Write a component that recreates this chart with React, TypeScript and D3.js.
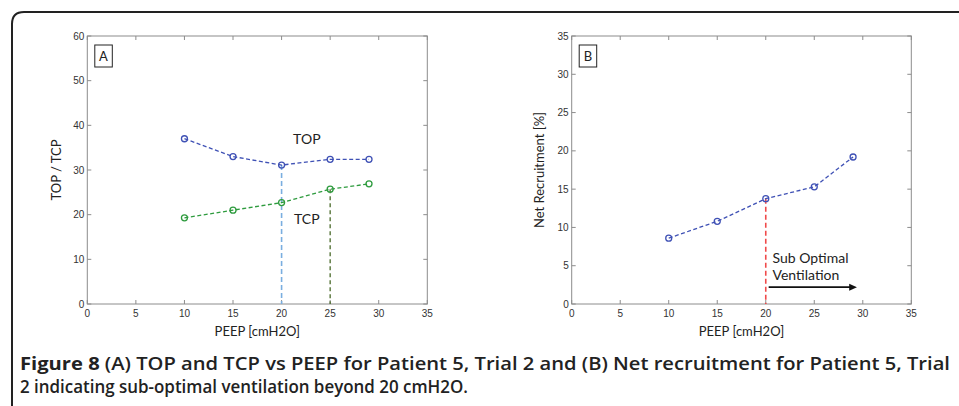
import React from 'react';
import * as d3 from 'd3';

// PEEP settings shared by both panels
const peep = [10, 15, 20, 25, 29];

// panel A
const topValues = [37.0, 33.0, 31.1, 32.4, 32.4];
const tcpValues = [19.3, 21.0, 22.7, 25.7, 26.9];
const aYTicks = [0, 10, 20, 30, 40, 50, 60];

// panel B
const netRecruitment = [8.6, 10.8, 13.75, 15.3, 19.2];
const bYTicks = [0, 5, 10, 15, 20, 25, 30, 35];

const xTicks = [0, 5, 10, 15, 20, 25, 30, 35];

const tickFont = '"Liberation Sans", Arial, sans-serif';
const labelFont = 'Lato, "Open Sans", sans-serif';

type PanelProps = {
    left: number;
    right: number;
    top: number;
    bottom: number;
    yMax: number;
    yTicks: number[];
    yLabel: string;
    yLabelX: number;
    letter: string;
    children: (x: d3.ScaleLinear<number, number>, y: d3.ScaleLinear<number, number>) => React.ReactNode;
};

function Panel({ left, right, top, bottom, yMax, yTicks, yLabel, yLabelX, letter, children }: PanelProps) {
    const x = d3.scaleLinear().domain([0, 35]).range([left, right]);
    const y = d3.scaleLinear().domain([0, yMax]).range([bottom, top]);
    const axisColor = '#8c8c8c';
    const tl = 4;
    return (
        <g>
            <rect x={left} y={top} width={right - left} height={bottom - top} fill="none" stroke={axisColor} strokeWidth={1} />
            {xTicks.map((t) => (
                <g key={'x' + t}>
                    <line x1={x(t)} x2={x(t)} y1={bottom} y2={bottom - tl} stroke={axisColor} />
                    <line x1={x(t)} x2={x(t)} y1={top} y2={top + tl} stroke={axisColor} />
                    <text x={x(t)} y={bottom + 13} textAnchor="middle" fontFamily={tickFont} fontSize={10} fill="#333">
                        {t}
                    </text>
                </g>
            ))}
            {yTicks.map((t) => (
                <g key={'y' + t}>
                    <line x1={left} x2={left + tl} y1={y(t)} y2={y(t)} stroke={axisColor} />
                    <line x1={right} x2={right - tl} y1={y(t)} y2={y(t)} stroke={axisColor} />
                    <text x={left - 3} y={y(t) + 3.5} textAnchor="end" fontFamily={tickFont} fontSize={10} fill="#333">
                        {t}
                    </text>
                </g>
            ))}
            <text
                x={(left + right) / 2}
                y={bottom + 32}
                textAnchor="middle"
                fontFamily={labelFont}
                fontSize={13}
                fill="#222"
            >
                PEEP [cmH2O]
            </text>
            <text
                transform={`translate(${yLabelX},${(top + bottom) / 2}) rotate(-90)`}
                textAnchor="middle"
                fontFamily={labelFont}
                fontSize={13}
                fill="#222"
            >
                {yLabel}
            </text>
            <rect x={left + 7.5} y={45} width={17.5} height={22} fill="#fff" stroke="#222" strokeWidth={1} />
            <text x={left + 16.2} y={61} textAnchor="middle" fontFamily={labelFont} fontSize={13} fill="#222">
                {letter}
            </text>
            {children(x, y)}
        </g>
    );
}

function Series({ xs, ys, color, x, y }: { xs: number[]; ys: number[]; color: string; x: any; y: any }) {
    const line = d3
        .line<number>()
        .x((d, i) => x(xs[i]))
        .y((d) => y(d));
    return (
        <g>
            <path d={line(ys) || ''} fill="none" stroke={color} strokeWidth={1.3} strokeDasharray="4,2.5" />
            {ys.map((v, i) => (
                <circle key={i} cx={x(xs[i])} cy={y(v)} r={3} fill="none" stroke={color} strokeWidth={1.3} />
            ))}
        </g>
    );
}

export default function App() {
    const blue = '#3f51b5';
    const green = '#2e9b3e';
    return (
        <svg width={959} height={406} style={{ position: 'absolute', left: 0, top: 0 }}>
            <rect width={959} height={406} fill="#fff" />
            <path d="M12,420 L12,24 Q12,12 24,12 L970,12" fill="none" stroke="#222" strokeWidth={2} />

            <Panel
                left={87.3}
                right={427.3}
                top={36}
                bottom={304}
                yMax={60}
                yTicks={aYTicks}
                yLabel="TOP / TCP"
                yLabelX={61}
                letter="A"
            >
                {(x, y) => (
                    <g>
                        <line
                            x1={x(peep[2])}
                            x2={x(peep[2])}
                            y1={y(topValues[2])}
                            y2={y(0)}
                            stroke="#7aaee0"
                            strokeWidth={1.6}
                            strokeDasharray="5,3"
                        />
                        <line
                            x1={x(peep[3])}
                            x2={x(peep[3])}
                            y1={y(tcpValues[3])}
                            y2={y(0)}
                            stroke="#4a6a2a"
                            strokeWidth={1.3}
                            strokeDasharray="4,3"
                        />
                        <Series xs={peep} ys={topValues} color={blue} x={x} y={y} />
                        <Series xs={peep} ys={tcpValues} color={green} x={x} y={y} />
                        <text x={x(22.6)} y={y(37) + 5} textAnchor="middle" fontFamily={labelFont} fontSize={14} fill="#222">
                            TOP
                        </text>
                        <text x={x(22.6)} y={y(19.1) + 5} textAnchor="middle" fontFamily={labelFont} fontSize={14} fill="#222">
                            TCP
                        </text>
                    </g>
                )}
            </Panel>

            <Panel
                left={571.7}
                right={911.3}
                top={36}
                bottom={304}
                yMax={35}
                yTicks={bYTicks}
                yLabel="Net Recruitment [%]"
                yLabelX={544}
                letter="B"
            >
                {(x, y) => (
                    <g>
                        <line
                            x1={x(peep[2])}
                            x2={x(peep[2])}
                            y1={y(netRecruitment[2])}
                            y2={y(0)}
                            stroke="#f04a4a"
                            strokeWidth={1.6}
                            strokeDasharray="5,3"
                        />
                        <Series xs={peep} ys={netRecruitment} color={blue} x={x} y={y} />
                        <text x={x(20.7)} y={y(5.4)} fontFamily={labelFont} fontSize={14} fill="#222">
                            Sub Optimal
                        </text>
                        <text x={x(20.7)} y={y(3.1)} fontFamily={labelFont} fontSize={14} fill="#222">
                            Ventilation
                        </text>
                        <line x1={x(20.3)} x2={x(28.9)} y1={y(2.2)} y2={y(2.2)} stroke="#111" strokeWidth={1.8} />
                        <path
                            d={`M${x(29.4)},${y(2.2)} L${x(28.6)},${y(2.2) - 3.5} L${x(28.6)},${y(2.2) + 3.5} Z`}
                            fill="#111"
                        />
                    </g>
                )}
            </Panel>

            <text x={20} y={370} fontFamily={'"Open Sans", sans-serif'} fontSize={17.5} fill="#222" textLength={930} lengthAdjust="spacingAndGlyphs">
                <tspan fontWeight={700}>Figure 8</tspan>
                <tspan fontWeight={600}> (A) TOP and TCP vs PEEP for Patient 5, Trial 2 and (B) Net recruitment for Patient 5, Trial</tspan>
            </text>
            <text x={20} y={393} fontFamily={'"Open Sans", sans-serif'} fontSize={17.5} fontWeight={600} fill="#222" textLength={448} lengthAdjust="spacingAndGlyphs">
                2 indicating sub-optimal ventilation beyond 20 cmH2O.
            </text>
        </svg>
    );
}
